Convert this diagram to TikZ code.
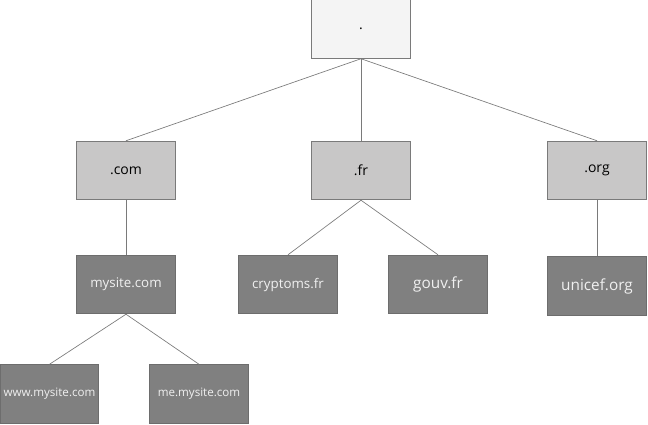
\documentclass[tikz,border=0pt]{standalone}
\usepackage{fontspec}
\setmainfont{Open Sans}
\definecolor{rootfill}{HTML}{F4F4F4}
\definecolor{tldfill}{HTML}{C8C7C7}
\definecolor{sitefill}{HTML}{808080}
\definecolor{edge}{HTML}{7A7A7A}
\usetikzlibrary{positioning}
\tikzset{
  box/.style={draw=edge,line width=0.6pt,inner sep=0pt,minimum width=74pt,minimum height=44pt,align=center},
  rootbox/.style={box,fill=rootfill,font=\fontsize{10.5}{12}\selectfont},
  tldbox/.style={box,fill=tldfill,font=\fontsize{10.5}{12}\selectfont},
  sitebox/.style={box,draw=sitefill!85!black,fill=sitefill,text=white!94!black,font=\fontsize{10}{12}\selectfont},
  bigsite/.style={sitebox,font=\fontsize{11.5}{13}\selectfont},
  subsite/.style={sitebox,font=\fontsize{8.7}{11}\selectfont},
  link/.style={draw=edge,line width=0.5pt},
}
\begin{document}
\begin{tikzpicture}[x=0.75pt,y=-0.75pt]
\useasboundingbox (0,0) rectangle (648,424);
\node[rootbox] (root) at (361,29) {.};
\node[tldbox] (com) at (126,170.5) {.com};
\node[tldbox] (fr) at (361,170.5) {.fr};
\node[tldbox] (org) at (597,170.5) {.org};
\node[sitebox] (mysite) at (126,284.5) {mysite.com};
\node[sitebox] (cryptoms) at (288,284.5) {cryptoms.fr};
\node[bigsite] (gouv) at (438,284.5) {gouv.fr};
\node[bigsite] (unicef) at (597,286) {unicef.org};
\node[subsite] (www) at (49.5,394) {www.mysite.com};
\node[subsite] (me) at (199,394) {me.mysite.com};
\draw[link] (root.south)--(com.north); \draw[link] (root.south)--(fr.north); \draw[link] (root.south)--(org.north);
\draw[link] (com.south)--(mysite.north); \draw[link] (org.south)--(unicef.north);
\draw[link] (fr.south)--(cryptoms.north); \draw[link] (fr.south)--(gouv.north);
\draw[link] (mysite.south)--(www.north); \draw[link] (mysite.south)--(me.north);
\end{tikzpicture}
\end{document}
